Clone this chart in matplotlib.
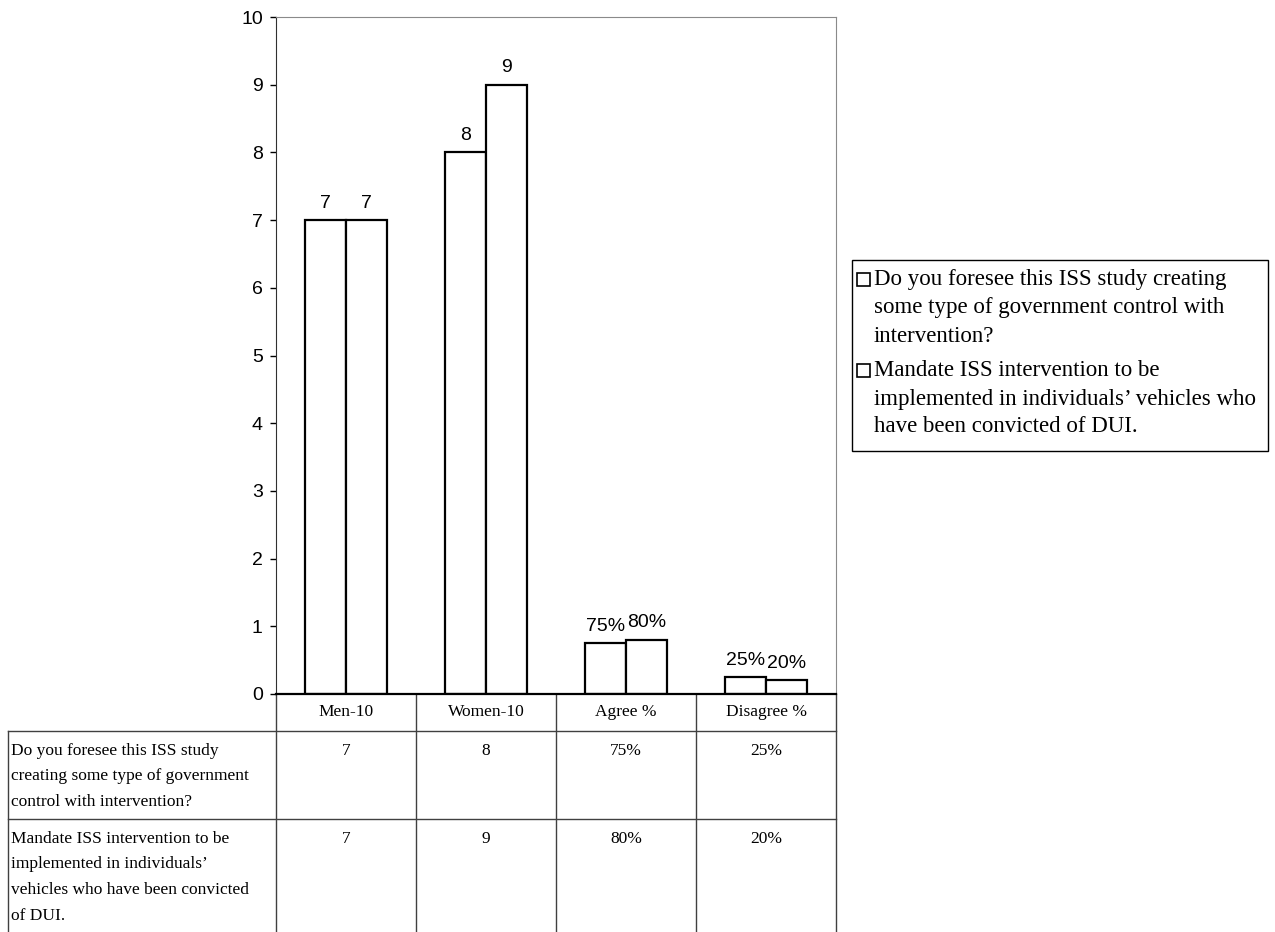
import numpy as np
import matplotlib
matplotlib.use("Agg")
import matplotlib.pyplot as plt
from matplotlib.patches import Rectangle

# survey answers, one list per question
categories = ["Men-10", "Women-10", "Agree %", "Disagree %"]
q_control = [7, 8, 0.75, 0.25]
q_mandate = [7, 9, 0.80, 0.20]
is_pct = [False, False, True, True]
series_names = [
    "Do you foresee this ISS study\ncreating some type of government\ncontrol with intervention?",
    "Mandate ISS intervention to be\nimplemented in individuals\u2019\nvehicles who have been convicted\nof DUI.",
]
legend_names = [
    "Do you foresee this ISS study creating\nsome type of government control with\nintervention?",
    "Mandate ISS intervention to be\nimplemented in individuals\u2019 vehicles who\nhave been convicted of DUI.",
]
yticks = list(range(0, 11))

SANS = "Liberation Sans"
SERIF = "Liberation Serif"
W, H = 1275, 932


def fmt(v, pct):
    return f"{v:.0%}" if pct else f"{v:g}"


fig = plt.figure(figsize=(W / 100, H / 100), dpi=100)
ax_l, ax_r, ax_t, ax_b = 276, 836, 17, 694
ax = fig.add_axes([ax_l / W, 1 - ax_b / H, (ax_r - ax_l) / W, (ax_b - ax_t) / H])

x = np.arange(len(categories))
bw = 0.29
for off, vals in ((-bw / 2, q_control), (bw / 2, q_mandate)):
    bars = ax.bar(x + off, vals, width=bw, facecolor="white", edgecolor="black", linewidth=1.6)
    for b, v, p in zip(bars, vals, is_pct):
        ax.annotate(fmt(v, p), (b.get_x() + b.get_width() / 2, b.get_height()),
                    xytext=(0, 9), textcoords="offset points", ha="center", va="baseline",
                    fontsize=14, family=SANS)

ax.set_xlim(-0.5, len(categories) - 0.5)
ax.set_ylim(0, 10)
ax.set_yticks(yticks)
ax.set_xticks([])
ax.tick_params(axis="y", direction="out", length=4.5, width=1, pad=5, labelsize=14)
for lab in ax.get_yticklabels():
    lab.set_family(SANS)
ax.spines["left"].set_color("#303030")
ax.spines["bottom"].set_color("black")
ax.spines["bottom"].set_linewidth(1.6)
for s in ("top", "right"):
    ax.spines[s].set_color("#8a8a8a")

# data table and legend, laid out in pixel units
pix = fig.add_axes([0, 0, 1, 1], zorder=-1)
pix.set_xlim(0, W)
pix.set_ylim(H, 0)
pix.axis("off")

tbl_left = 8
col_w = (ax_r - ax_l) / len(categories)
col_edges = [ax_l + i * col_w for i in range(len(categories) + 1)]
row_edges = [ax_b, 731, 819, H]
line_kw = dict(color="#404040", linewidth=1)
for xe in col_edges:
    pix.plot([xe, xe], [ax_b, H], **line_kw)
pix.plot([tbl_left, tbl_left], [row_edges[1], H], **line_kw)
for ye in row_edges[1:3]:
    pix.plot([tbl_left, ax_r], [ye, ye], **line_kw)

for i, c in enumerate(categories):
    pix.text(col_edges[i] + col_w / 2, (row_edges[0] + row_edges[1]) / 2, c,
             ha="center", va="center", fontsize=12.5, family=SERIF)

line_h = 25.5
for r, (name, vals) in enumerate(zip(series_names, (q_control, q_mandate))):
    top = row_edges[r + 1]
    for k, ln in enumerate(name.split("\n")):
        pix.text(tbl_left + 3, top + 20 + k * line_h, ln, ha="left", va="center",
                 fontsize=12.5, family=SERIF)
    for i, (v, p) in enumerate(zip(vals, is_pct)):
        pix.text(col_edges[i] + col_w / 2, top + 20, fmt(v, p), ha="center", va="center",
                 fontsize=12.5, family=SERIF)

# legend box: square key next to the first line of each entry
lg_l, lg_t, lg_r, lg_b = 852, 260, 1268, 451
pix.add_patch(Rectangle((lg_l, lg_t), lg_r - lg_l, lg_b - lg_t, facecolor="white",
                        edgecolor="black", linewidth=1))
lg_line = 28
y = lg_t + 20
for name in legend_names:
    pix.add_patch(Rectangle((857, y - 7), 13, 13, facecolor="white", edgecolor="black",
                            linewidth=1.2))
    for ln in name.split("\n"):
        pix.text(874, y, ln, ha="left", va="center", fontsize=16.5, family=SERIF)
        y += lg_line
    y += 7

fig.savefig("out.png", dpi=100)
